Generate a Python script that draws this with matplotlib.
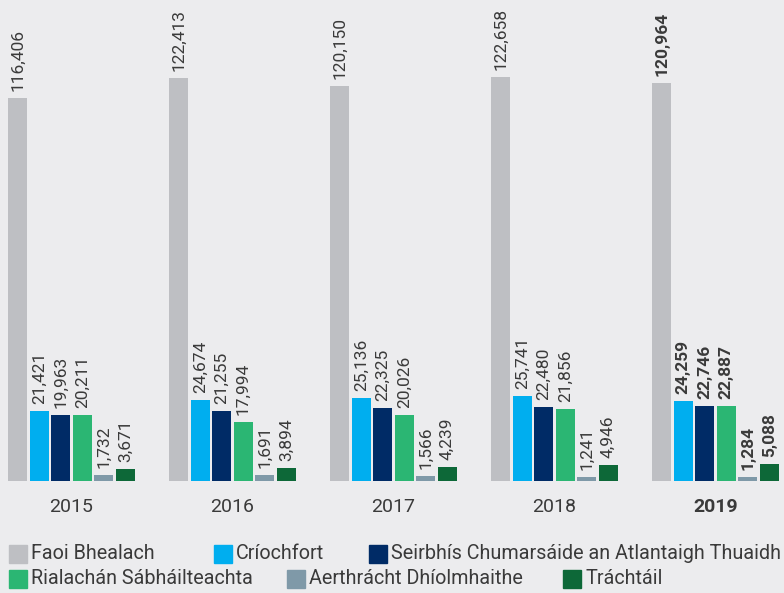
import numpy as np
import matplotlib.pyplot as plt
from matplotlib.patches import Rectangle

years = ['2015', '2016', '2017', '2018', '2019']
series = ['Faoi Bhealach', 'Críochfort', 'Seirbhís Chumarsáide an Atlantaigh Thuaidh',
          'Rialachán Sábháilteachta', 'Aerthrácht Dhíolmhaithe', 'Tráchtáil']
colors = ['#bebfc3', '#00aeef', '#002b66', '#2bb673', '#7f99a8', '#0d6838']

faoi = [116406, 122413, 120150, 122658, 120964]
criochfort = [21421, 24674, 25136, 25741, 24259]
seirbhis = [19963, 21255, 22325, 22480, 22746]
rialachan = [20211, 17994, 20026, 21856, 22887]
aerthracht = [1732, 1691, 1566, 1241, 1284]
trachtail = [3671, 3894, 4239, 4946, 5088]
values = [faoi, criochfort, seirbhis, rialachan, aerthracht, trachtail]

bg = '#ececee'
txt = '#3a3a3a'
plt.rcParams['font.family'] = ['Roboto', 'DejaVu Sans']

fig = plt.figure(figsize=(7.84, 5.93), dpi=100, facecolor=bg)
ax = fig.add_axes([0, 112 / 593, 1, 481 / 593])
ax.set_facecolor(bg)

step = 21.5 / 161
width = 19 / 161
x = np.arange(len(years))
for j, vals in enumerate(values):
    pos = x + (j - 2.5) * step
    ax.bar(pos, vals, width, color=colors[j])
    for i, v in enumerate(vals):
        bold = years[i] == '2019'
        ax.annotate(f'{v:,}', (pos[i], v), xytext=(0, 5), textcoords='offset points',
                    rotation=90, ha='center', va='bottom', fontsize=12.5,
                    color=txt, fontweight='bold' if bold else 'normal')

for i, y in enumerate(years):
    ax.annotate(y, (x[i], 0), xytext=(0, -19), textcoords='offset points',
                ha='center', va='center', fontsize=14, color=txt,
                fontweight='bold' if y == '2019' else 'normal')

ax.set_xlim(-71.5 / 161, (784 - 71.5) / 161)
ax.set_ylim(0, 481 / (383 / 116406))
ax.axis('off')

# legend, two flowing rows (pixel positions of the swatches)
rows = [[(0, 9), (1, 214), (2, 369)], [(3, 9), (4, 287), (5, 563)]]
row_y = [553.5, 579]
for r, items in enumerate(rows):
    for j, px in items:
        yc = row_y[r]
        fig.add_artist(Rectangle((px / 784, (593 - yc - 9) / 593), 18 / 784, 18 / 593,
                                 transform=fig.transFigure, color=colors[j]))
        fig.text((px + 22) / 784, (593 - yc) / 593, series[j], ha='left', va='center',
                 fontsize=14.2, color=txt)

fig.savefig('out.png', dpi=100, facecolor=bg)
